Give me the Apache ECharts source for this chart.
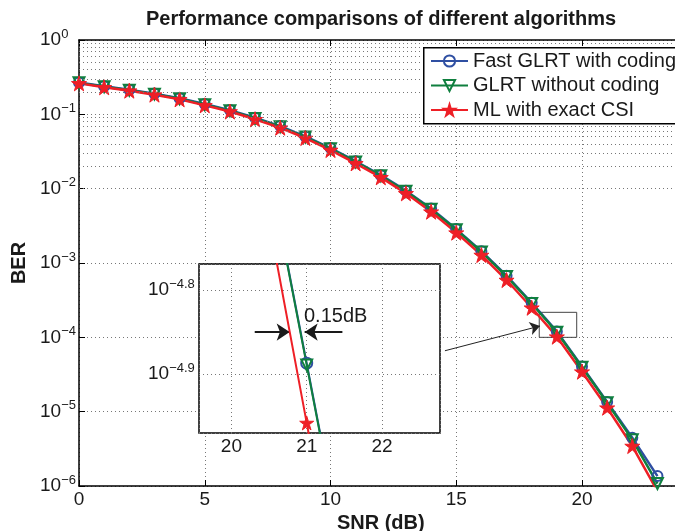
<!DOCTYPE html>
<html>
<head>
<meta charset="utf-8">
<script src="https://cdn.jsdelivr.net/npm/echarts@6/dist/echarts.min.js"></script>
<style>
  html, body { margin: 0; padding: 0; background: #fff; }
  #chart { width: 675px; height: 531px; }
</style>
</head>
<body>
<div id="chart"></div>
<script>
// main curves: BER vs SNR (dB)
const snr = [0, 1, 2, 3, 4, 5, 6, 7, 8, 9, 10, 11, 12, 13, 14, 15, 16, 17, 18, 19, 20, 21, 22, 23];
const fastGlrtCoding = [0.268, 0.238, 0.214, 0.19, 0.165, 0.138, 0.114, 0.09, 0.0695, 0.0505, 0.0352,
  0.0234, 0.0152, 0.0094, 0.0054, 0.00286, 0.00144, 6.75e-4, 2.92e-4, 1.2e-4, 4.05e-5, 1.35e-5, 4.45e-6, 1.36e-6];
const glrtNoCoding = [0.265, 0.235, 0.211, 0.187, 0.162, 0.135, 0.112, 0.088, 0.068, 0.0495, 0.0345,
  0.0229, 0.0149, 0.0092, 0.0053, 0.0028, 0.00141, 6.6e-4, 2.85e-4, 1.17e-4, 3.95e-5, 1.32e-5, 4.2e-6, 1.08e-6];
const mlExactCsi = [0.261, 0.231, 0.208, 0.184, 0.159, 0.132, 0.109, 0.0857, 0.066, 0.048, 0.0331,
  0.0219, 0.0142, 0.00865, 0.0049, 0.00256, 0.00128, 5.9e-4, 2.5e-4, 1.02e-4, 3.45e-5, 1.13e-5, 3.45e-6, 8.5e-7];

// zoomed inset, BER given as log10 exponent
const insetSnr = [20, 21, 22];
const insetFastGlrt = [-4.425, -4.887, -5.353];
const insetGlrt = [-4.425, -4.889, -5.353];
const insetMl = [-4.478, -4.958, -5.438];

const seriesNames = ['Fast GLRT with coding', 'GLRT without coding', 'ML with exact CSI'];
const xTicks = [0, 5, 10, 15, 20];

const BLUE = '#2f4fa2';
const GREEN = '#0f7f3e';
const RED = '#ee1f26';
const FONT = 'Helvetica, Arial, "Liberation Sans", sans-serif';
const STAR = 'path://M0,-10L2.245,-3.09L9.51,-3.09L3.633,1.18L5.878,8.09L0,3.82L-5.878,8.09L-3.633,1.18L-9.51,-3.09L-2.245,-3.09Z';

// dotted minor grid of the log axis (2..9 x 10^k)
const minorGrid = [];
for (let k = -6; k < 0; k++) {
  for (let m = 2; m <= 9; m++) minorGrid.push(m * Math.pow(10, k));
}

const dotted = { type: [1, 3], color: '#777', width: 1 };

function pow10Label(exp) {
  const e = String(exp).replace('-', '\u2212');
  return '{b|10}{s|' + e + '}';
}
const powRich = {
  b: { fontSize: 19, fontFamily: FONT, color: '#1a1a1a' },
  s: { fontSize: 13, fontFamily: FONT, color: '#1a1a1a', padding: [0, 0, 12, 0] }
};

const chart = echarts.init(document.getElementById('chart'));
chart.setOption({
  animation: false,
  backgroundColor: '#fff',
  title: {
    text: 'Performance comparisons of different algorithms',
    left: 381,
    top: 9,
    padding: 0,
    textAlign: 'center',
    textStyle: { fontSize: 20, fontWeight: 'bold', fontFamily: FONT, color: '#1a1a1a' }
  },
  legend: {
    orient: 'vertical',
    left: 423,
    top: 47,
    z: 10,
    data: seriesNames,
    padding: [4, 0, 3, 7],
    itemGap: 4.5,
    itemWidth: 37,
    itemHeight: 14,
    textStyle: { fontSize: 20, fontFamily: FONT, color: '#1a1a1a', lineHeight: 20 }
  },
  grid: [
    { left: 79, top: 40, width: 603.6, height: 446, outerBoundsMode: 'none' },
    {
      left: 199, top: 264, width: 241, height: 169, z: 3, show: true, outerBoundsMode: 'none',
      backgroundColor: '#fff', borderColor: '#000', borderWidth: 1.5
    }
  ],
  xAxis: [
    {
      type: 'value', gridIndex: 0, min: 0, max: 24, interval: 5,
      name: 'SNR (dB)', nameLocation: 'middle', nameGap: 26,
      nameTextStyle: { fontSize: 20, fontWeight: 'bold', fontFamily: FONT, color: '#1a1a1a' },
      axisLine: { lineStyle: { color: '#000', width: 1.5 } },
      axisTick: { inside: true, length: 6, lineStyle: { color: '#000' } },
      axisLabel: {
        fontSize: 19, fontFamily: FONT, color: '#1a1a1a', margin: 4,
        formatter: v => (xTicks.indexOf(v) >= 0 ? String(v) : '')
      },
      splitLine: { show: true, lineStyle: dotted }
    },
    {
      type: 'value', gridIndex: 0, min: 0, max: 24, interval: 5, position: 'top',
      axisLine: { onZero: false, lineStyle: { color: '#000', width: 1.5 } },
      axisTick: { inside: true, length: 6, lineStyle: { color: '#000' } },
      axisLabel: { show: false },
      splitLine: { show: false }
    },
    {
      type: 'value', gridIndex: 1, min: 19.57, max: 22.77, splitNumber: 3, z: 4,
      axisLine: { show: false },
      axisTick: { show: false },
      axisLabel: {
        fontSize: 19, fontFamily: FONT, color: '#1a1a1a', margin: 4,
        showMinLabel: false, showMaxLabel: false
      },
      splitLine: { show: true, lineStyle: dotted }
    }
  ],
  yAxis: [
    {
      type: 'log', logBase: 10, gridIndex: 0, min: 1e-6, max: 1, splitNumber: 6,
      name: 'BER', nameLocation: 'middle', nameGap: 49,
      nameTextStyle: { fontSize: 20, fontWeight: 'bold', fontFamily: FONT, color: '#1a1a1a' },
      axisLine: { onZero: false, lineStyle: { color: '#000', width: 1.5 } },
      axisTick: { inside: true, length: 6, lineStyle: { color: '#000' } },
      axisLabel: {
        align: 'left', margin: 39,
        formatter: v => pow10Label(Math.round(Math.log10(v))),
        rich: powRich
      },
      splitLine: { show: true, lineStyle: dotted }
    },
    {
      type: 'value', gridIndex: 1, min: -4.97, max: -4.769, splitNumber: 2, z: 4,
      axisLine: { show: false },
      axisTick: { show: false },
      axisLabel: {
        align: 'left', margin: 51,
        showMinLabel: false, showMaxLabel: false,
        formatter: v => pow10Label(v.toFixed(1)),
        rich: powRich
      },
      splitLine: { show: true, lineStyle: dotted }
    }
  ],
  series: [
    {
      type: 'line', name: 'minor-grid', data: [], z: 1, silent: true,
      xAxisIndex: 0, yAxisIndex: 0,
      markLine: {
        silent: true, symbol: 'none', animation: false,
        label: { show: false },
        lineStyle: dotted,
        data: minorGrid.map(v => ({ yAxis: v }))
      }
    },
    {
      name: seriesNames[0], type: 'line', xAxisIndex: 0, yAxisIndex: 0, z: 2,
      data: snr.map((x, i) => [x, fastGlrtCoding[i]]),
      symbol: 'circle', symbolSize: 10, showAllSymbol: true,
      lineStyle: { color: BLUE, width: 2.5 },
      itemStyle: { color: 'rgba(0,0,0,0)', borderColor: BLUE, borderWidth: 2 }
    },
    {
      name: seriesNames[1], type: 'line', xAxisIndex: 0, yAxisIndex: 0, z: 2,
      data: snr.map((x, i) => [x, glrtNoCoding[i]]),
      symbol: 'triangle', symbolRotate: 180, symbolSize: 11, showAllSymbol: true,
      lineStyle: { color: GREEN, width: 2.5 },
      itemStyle: { color: 'rgba(0,0,0,0)', borderColor: GREEN, borderWidth: 2 }
    },
    {
      name: seriesNames[2], type: 'line', xAxisIndex: 0, yAxisIndex: 0, z: 2,
      data: snr.map((x, i) => [x, mlExactCsi[i]]),
      symbol: STAR, symbolSize: 15, showAllSymbol: true,
      lineStyle: { color: RED, width: 2.5 },
      itemStyle: { color: RED, borderColor: RED, borderWidth: 1 }
    },
    {
      type: 'line', name: 'zoom-box', data: [], z: 2, silent: true,
      xAxisIndex: 0, yAxisIndex: 0,
      markArea: {
        silent: true,
        itemStyle: { color: 'rgba(0,0,0,0)', borderColor: '#444', borderWidth: 1 },
        data: [[{ coord: [18.3, 2.17e-4] }, { coord: [19.79, 1e-4] }]]
      },
      markLine: {
        silent: true, symbol: ['none', 'arrow'], symbolSize: 10,
        label: { show: false },
        lineStyle: { color: '#222', width: 1, type: 'solid' },
        data: [[{ coord: [14.55, 6.6e-5] }, { coord: [18.33, 1.42e-4] }]]
      }
    },
    {
      name: seriesNames[0], type: 'line', xAxisIndex: 2, yAxisIndex: 1, z: 5,
      data: insetSnr.map((x, i) => [x, insetFastGlrt[i]]),
      symbol: 'circle', symbolSize: 11, legendHoverLink: false,
      lineStyle: { color: BLUE, width: 2 },
      itemStyle: { color: 'rgba(0,0,0,0)', borderColor: BLUE, borderWidth: 2 }
    },
    {
      name: seriesNames[1], type: 'line', xAxisIndex: 2, yAxisIndex: 1, z: 5,
      data: insetSnr.map((x, i) => [x, insetGlrt[i]]),
      symbol: 'triangle', symbolRotate: 180, symbolSize: 11,
      lineStyle: { color: GREEN, width: 2 },
      itemStyle: { color: 'rgba(0,0,0,0)', borderColor: GREEN, borderWidth: 2 }
    },
    {
      name: seriesNames[2], type: 'line', xAxisIndex: 2, yAxisIndex: 1, z: 5,
      data: insetSnr.map((x, i) => [x, insetMl[i]]),
      symbol: STAR, symbolSize: 14,
      lineStyle: { color: RED, width: 2 },
      itemStyle: { color: RED, borderColor: RED, borderWidth: 1 }
    },
    {
      type: 'line', name: 'gap-arrows', data: [], z: 6, silent: true,
      xAxisIndex: 2, yAxisIndex: 1,
      markLine: {
        silent: true, symbol: ['none', 'arrow'], symbolSize: 13,
        label: { show: false },
        lineStyle: { color: '#1a1a1a', width: 2, type: 'solid' },
        data: [
          [{ coord: [20.31, -4.85] }, { coord: [20.774, -4.85] }],
          [{ coord: [21.474, -4.85] }, { coord: [20.973, -4.85] }]
        ]
      }
    }
  ],
  graphic: [
    {
      // legend frame, runs past the right edge like the cropped original
      type: 'rect', left: 423, top: 47, z: 9, silent: true,
      shape: { width: 300, height: 76 },
      style: { fill: '#fff', stroke: '#000', lineWidth: 1.5 }
    },
    {
      type: 'text', left: 304, top: 306, z: 20,
      style: { text: '0.15dB', fontSize: 20, fontFamily: FONT, fill: '#1a1a1a' }
    }
  ]
});
</script>
</body>
</html>
